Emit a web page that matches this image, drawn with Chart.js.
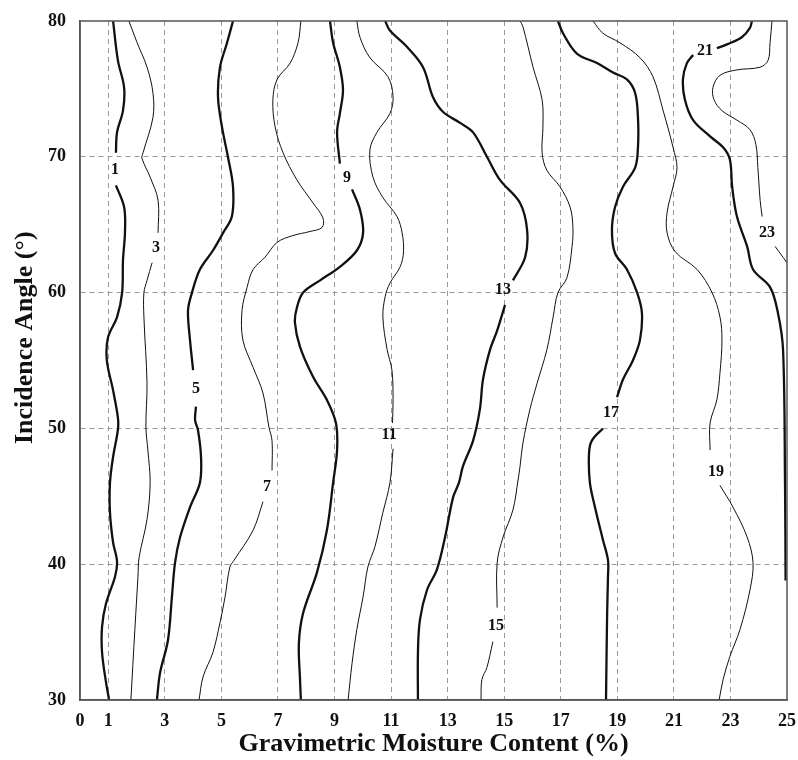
<!DOCTYPE html>
<html>
<head>
<meta charset="utf-8">
<script src="https://cdn.jsdelivr.net/npm/chart.js@4"></script>
<style>
  body { margin: 0; background: #fff; }
  #wrap { width: 798px; height: 760px; position: relative; }
</style>
</head>
<body>
<div id="wrap"><canvas id="contour"></canvas></div>
<script>
// ticks
const xTicks = [0, 1, 3, 5, 7, 9, 11, 13, 15, 17, 19, 21, 23, 25];
const yTicks = [30, 40, 50, 60, 70, 80];

// contour levels and their traced lines [moisture %, angle °]; null = gap for the label
const levels = [1, 3, 5, 7, 9, 11, 13, 15, 17, 19, 21, 23];

const c1 = [[1.17,80],[1.34,77.1],[1.56,75.1],[1.52,73.4],[1.31,71.8],[1.27,70.3],null,[1.27,67.9],[1.56,66.3],[1.59,64.4],[1.52,62.4],[1.49,60.0],[1.31,58.2],[0.99,56.7],[0.95,55.0],[1.17,52.8],[1.34,50.8],[1.34,49.9],[1.17,47.9],[1.06,46.0],[1.06,43.8],[1.17,41.6],[1.31,40.2],[1.24,39.1],[0.92,37.1],[0.78,35.4],[0.78,33.5],[0.92,31.3],[1.03,30]];
const c3 = [[1.73,80],[2.02,78.4],[2.37,76.6],[2.58,74.7],[2.58,72.9],[2.23,70.3],[2.19,69.9],[2.48,68.5],[2.76,66.8],[2.76,64.4],null,[2.55,62.2],[2.37,60.9],[2.26,60.0],[2.26,58.2],[2.37,53.3],[2.33,50.1],[2.40,48.4],[2.48,46.0],[2.37,43.3],[2.09,40.5],[2.05,39.1],[1.94,35.2],[1.80,30]];
const c5 = [[5.41,80],[5.20,78.4],[4.95,76.6],[4.88,74.4],[5.02,72.2],[5.23,70.0],[5.41,67.8],[5.37,65.6],[5.06,64.4],[4.70,63.1],[4.24,61.7],[3.96,60.0],[3.82,58.7],[3.89,56.5],[4.00,54.3],null,[4.10,51.6],[4.07,50.6],[4.17,49.9],[4.28,47.9],[4.24,46.0],[3.89,44.2],[3.54,42.0],[3.36,40.1],[3.25,37.6],[3.11,34.4],[2.83,32.0],[2.72,30]];
const c7 = [[7.81,80],[7.71,78.4],[7.43,76.9],[6.97,75.7],[6.82,74.2],[6.90,72.2],[7.18,70.3],[7.67,68.3],[8.24,66.6],[8.59,65.5],[8.56,64.8],[8.13,64.5],[7.53,64.2],[6.97,63.7],[6.54,62.6],[6.12,61.7],[5.91,60.4],[5.73,58.7],[5.76,56.5],[6.12,54.5],[6.47,52.6],[6.68,50.1],[6.79,49.1],[6.79,46.9],null,[6.47,44.6],[6.12,42.5],[5.45,40.3],[5.30,39.8],[5.13,37.6],[4.95,35.7],[4.70,33.5],[4.35,31.7],[4.21,30]];
const c9 = [[8.84,80],[8.95,78.4],[9.19,76.6],[9.30,74.9],[9.19,73.2],[9.09,71.8],[9.19,69.5],null,[9.62,67.6],[9.90,66.1],[10.01,64.4],[9.79,63.1],[9.19,61.9],[8.49,60.9],[7.89,60.0],[7.67,58.9],[7.60,57.8],[7.78,56.0],[8.24,53.8],[8.73,52.1],[9.05,50.4],[9.09,48.4],[8.95,46.0],[8.73,42.5],[8.38,39.4],[7.89,36.4],[7.74,34.2],[7.78,31.5],[7.81,30]];
const c11 = [[9.79,80],[9.90,78.8],[10.25,77.3],[10.89,75.9],[11.07,74.4],[10.96,73.2],[10.50,71.8],[10.25,70.5],[10.36,68.5],[10.71,67.0],[11.21,65.6],[11.39,64.4],[11.44,63.0],[11.32,61.9],[10.96,60.7],[10.79,59.7],[10.71,58.2],[10.86,55.8],[11.03,54.3],[11.07,52.1],[11.05,50.4],null,[11.07,48.5],[10.96,46.0],[10.71,43.8],[10.43,41.3],[10.18,39.8],[10.01,37.6],[9.79,35.2],[9.62,32.7],[9.48,30]];
const c13 = [[10.79,80],[10.96,79.3],[11.56,78.1],[12.13,76.6],[12.48,74.4],[12.84,73.3],[13.44,72.5],[13.90,71.8],[14.39,70.0],[14.85,68.3],[15.56,66.6],[15.81,64.6],[15.74,62.6],[15.31,60.9],null,[15.03,59.1],[14.75,57.2],[14.50,55.8],[14.25,53.6],[14.14,51.4],[13.90,49.1],[13.54,47.2],[13.40,46.0],[13.19,44.9],[12.91,42.0],[12.62,39.6],[12.27,38.1],[12.02,35.9],[11.95,33.5],[11.95,30]];
const c15 = [[15.56,80],[15.66,79.6],[16.02,76.6],[16.34,74.2],[16.37,72.2],[16.34,70.3],[16.51,69.0],[16.97,67.8],[17.33,66.3],[17.43,64.8],[17.40,63.4],[17.22,61.1],[16.90,60.0],[16.73,58.2],[16.51,55.8],[16.16,53.3],[15.91,51.4],[15.66,48.9],[15.56,47.2],[15.49,46.2],[15.31,44.0],[14.96,42.0],[14.75,40.1],[14.75,36.8],null,[14.60,34.3],[14.39,32.4],[14.21,31.5],[14.18,30]];
const c17 = [[16.90,80],[17.08,79.1],[17.57,77.6],[18.28,76.9],[18.85,76.2],[19.34,75.7],[19.63,74.7],[19.73,72.9],[19.73,70.7],[19.63,69.2],[19.20,67.8],[18.92,66.3],[18.81,64.6],[18.92,62.9],[19.34,61.7],[19.70,60.0],[19.87,58.5],[19.80,56.5],[19.55,55.0],[19.20,53.6],[18.99,52.3],null,[18.49,50.0],[18.10,49.1],[18.00,48.2],[18.03,46.0],[18.21,44.2],[18.49,41.8],[18.67,40.3],[18.67,39.1],[18.64,36.4],[18.60,30]];
const c19 = [[18.14,80],[18.49,79.1],[19.09,78.4],[19.80,77.3],[20.26,75.9],[20.62,73.4],[20.97,70.7],[21.11,69.2],[20.97,67.8],[20.76,65.9],[20.76,64.4],[21.05,63.0],[21.82,61.7],[22.35,60.0],[22.63,58.2],[22.70,56.5],[22.63,54.1],[22.52,52.1],[22.28,50.4],[22.28,48.4],null,[22.63,45.8],[23.09,44.2],[23.59,42.0],[23.80,40.1],[23.69,38.1],[23.34,35.2],[22.98,33.2],[22.74,31.5],[22.60,30]];
const c21 = [[23.76,80],[23.69,79.5],[23.40,78.8],[22.90,78.3],[22.52,78.0],null,[21.68,77.5],[21.46,76.9],[21.32,75.7],[21.39,74.2],[21.68,72.7],[22.28,71.5],[22.74,70.7],[22.98,69.8],[23.06,67.8],[23.23,65.6],[23.59,63.4],[23.80,61.7],[24.40,60.4],[24.68,58.5],[24.86,55.8],[24.93,46.0],[24.95,38.8]];
const c23 = [[24.47,80],[24.40,78.4],[24.33,77.1],[24.05,76.6],[23.23,76.4],[22.63,76.0],[22.38,75.1],[22.42,74.2],[22.70,73.4],[23.23,72.7],[23.69,72.0],[23.90,70.9],[23.97,69.2],[24.05,66.8],[24.12,65.6],null,[24.58,63.4],[24.86,62.6],[25,62.2]];

// where each level number is written [moisture %, angle °]
const labelPoints = [[1.24,69.1],[2.69,63.4],[4.10,53.0],[6.61,45.8],[9.44,68.5],[10.93,49.6],[14.96,60.3],[14.71,35.5],[18.78,51.2],[22.49,46.9],[22.10,77.9],[24.29,64.5]];

const contourLines = [c1, c3, c5, c7, c9, c11, c13, c15, c17, c19, c21, c23];

const datasets = contourLines.map((line, i) => ({
  label: String(levels[i]),
  data: line.map(p => p ? { x: p[0], y: p[1] } : { x: null, y: null }),
  showLine: true,
  spanGaps: false,
  pointRadius: 0,
  borderColor: '#111',
  borderWidth: levels[i] % 4 === 1 ? 2.3 : 1,
  tension: 0.35
}));

const serif = '"Liberation Serif", "DejaVu Serif", serif';

// level numbers + the box round the plot
const contourLabels = {
  id: 'contourLabels',
  afterDatasetsDraw(chart) {
    const { ctx, chartArea: a, scales: { x, y } } = chart;
    ctx.save();
    ctx.font = 'bold 16px ' + serif;
    ctx.fillStyle = '#111';
    ctx.textAlign = 'center';
    ctx.textBaseline = 'middle';
    levels.forEach((lv, i) => {
      const [lx, ly] = labelPoints[i];
      ctx.fillText(String(lv), x.getPixelForValue(lx), y.getPixelForValue(ly) + 1);
    });
    ctx.strokeStyle = '#555';
    ctx.lineWidth = 1.5;
    ctx.strokeRect(a.left, a.top, a.right - a.left, a.bottom - a.top);
    ctx.restore();
  }
};

const ctx = document.getElementById('contour');

new Chart(ctx, {
  type: 'scatter',
  data: { datasets },
  plugins: [contourLabels],
  options: {
    responsive: true,
    maintainAspectRatio: false,
    animation: false,
    layout: { padding: { top: 21, right: 11, left: 0, bottom: 0 } },
    plugins: {
      legend: { display: false },
      tooltip: { enabled: false }
    },
    scales: {
      x: {
        type: 'linear',
        min: 0,
        max: 25,
        afterBuildTicks: s => { s.ticks = xTicks.map(v => ({ value: v })); },
        afterFit: s => { s.height = 60; s.paddingLeft = 0; s.paddingRight = 0; },
        ticks: { color: '#111', padding: 11, maxRotation: 0, autoSkip: false, font: { family: serif, size: 18, weight: 'bold' } },
        grid: {
          drawTicks: false,
          color: c => (c.tick && (c.tick.value === 0 || c.tick.value === 25)) ? 'rgba(0,0,0,0)' : '#999',
          lineWidth: 1
        },
        border: { display: true, color: '#555', width: 1.5, dash: [5, 4] },
        title: {
          display: true,
          text: 'Gravimetric Moisture Content (%)',
          color: '#111',
          font: { family: serif, size: 26, weight: 'bold' },
          padding: { top: 0, bottom: 0 }
        }
      },
      y: {
        type: 'linear',
        min: 30,
        max: 80,
        afterBuildTicks: s => { s.ticks = yTicks.map(v => ({ value: v })); },
        afterFit: s => { s.width = 80; s.paddingTop = 0; s.paddingBottom = 0; },
        ticks: { color: '#111', padding: 14, autoSkip: false, font: { family: serif, size: 18, weight: 'bold' } },
        grid: {
          drawTicks: false,
          color: c => (c.tick && (c.tick.value === 30 || c.tick.value === 80)) ? 'rgba(0,0,0,0)' : '#999',
          lineWidth: 1
        },
        border: { display: true, color: '#555', width: 1.5, dash: [5, 4] },
        title: {
          display: true,
          text: '       Incidence Angle (°)',
          color: '#111',
          font: { family: serif, size: 26, weight: 'bold' },
          padding: { top: 10, bottom: 0 }
        }
      }
    }
  }
});
</script>
</body>
</html>
